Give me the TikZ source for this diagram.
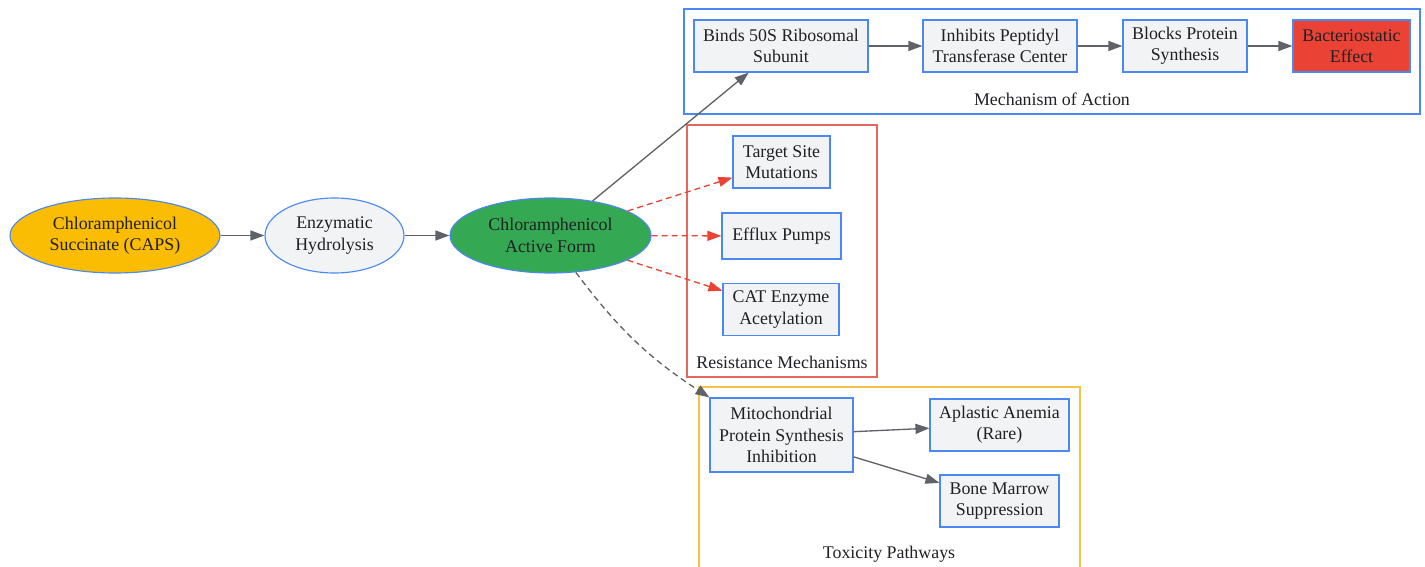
\documentclass[tikz,border=0pt]{standalone}
\usepackage{fontspec}
\setmainfont{Liberation Serif}
\usetikzlibrary{arrows.meta,shapes.geometric}
\definecolor{txt}{HTML}{202124}
\definecolor{edgegray}{HTML}{5F6368}
\definecolor{nodeblue}{HTML}{4A89F3}
\definecolor{nodefill}{HTML}{F1F3F4}
\definecolor{capsamber}{HTML}{FBBC04}
\definecolor{activegreen}{HTML}{34A853}
\definecolor{effectred}{HTML}{EA4335}
\definecolor{resred}{HTML}{E4685E}
\definecolor{toxyellow}{HTML}{F6C245}

\begin{document}
\begin{tikzpicture}[x=0.75pt,y=-0.75pt,line width=1pt]
        %
        % `proc' is used for the boxes, `drug' for the ellipses.
        % `cluster' is used for the group frames.
        % `sz' sets a node width in pixels.
        \tikzstyle{every node} = [font=\fontsize{13.4}{16}\selectfont,text=txt,align=center]
        \tikzstyle{sz} = [minimum width=#1*0.75pt]
        \tikzstyle{proc} = [draw=nodeblue,line width=0.85pt,fill=nodefill,rectangle,inner sep=0pt,minimum height=52*0.75pt]
        \tikzstyle{drug} = [draw=nodeblue,line width=0.85pt,fill=nodefill,ellipse,inner sep=0pt,minimum height=75*0.75pt]
        \tikzstyle{cluster} = [line width=0.9pt]
        \tikzstyle{flow} = [draw=edgegray,-{Triangle[length=10.5pt,width=7.5pt]}]
        \tikzstyle{resist} = [draw=effectred,dash pattern=on 4.5pt off 3pt,-{Triangle[length=10.5pt,width=7.5pt]}]
        \tikzstyle{toxic} = [draw=edgegray,dash pattern=on 4.5pt off 3pt,-{Triangle[length=10.5pt,width=7.5pt]}]
        %
        \clip (0,0) rectangle (1425,567);
        %
        % Group frames
        \draw[cluster,draw=nodeblue] (684,9) rectangle (1420,114);
        \draw[cluster,draw=resred] (687,125) rectangle (877,377);
        \draw[cluster,draw=toxyellow] (699,387) rectangle (1080,590);
        \node (moalabel) at (1052,99) {Mechanism of Action};
        \node (reslabel) at (782,362) {Resistance Mechanisms};
        \node (toxlabel) at (889,554) {Toxicity Pathways};
        %
        % Activation
        \node[drug,sz=210,fill=capsamber] (caps) at (115,235.5) {Chloramphenicol\\Succinate (CAPS)};
        \node[drug,sz=139] (hydro) at (334.5,235.5) {Enzymatic\\Hydrolysis};
        \node[drug,sz=201,fill=activegreen] (active) at (550.5,235.5) {Chloramphenicol\\Active Form};
        \draw[flow] (caps) -- (hydro);
        \draw[flow] (hydro) -- (active);
        %
        % Mechanism of action
        \node[proc,sz=174] (binds) at (781,46) {Binds 50S Ribosomal\\Subunit};
        \node[proc,sz=154] (inhibits) at (1000,46) {Inhibits Peptidyl\\Transferase Center};
        \node[proc,sz=124] (blocks) at (1185,46) {Blocks Protein\\Synthesis};
        \node[proc,sz=117,fill=effectred] (effect) at (1351.5,46) {Bacteriostatic\\Effect};
        \draw[flow] (active) -- (binds);
        \draw[flow] (binds) -- (inhibits);
        \draw[flow] (inhibits) -- (blocks);
        \draw[flow] (blocks) -- (effect);
        %
        % Resistance
        \node[proc,sz=97] (target) at (781.5,162) {Target Site\\Mutations};
        \node[proc,sz=119,minimum height=46*0.75pt] (efflux) at (781.5,236) {Efflux Pumps};
        \node[proc,sz=116] (cat) at (781,309.5) {CAT Enzyme\\Acetylation};
        \draw[resist] (active) -- (target);
        \draw[resist] (active) -- (efflux);
        \draw[resist] (active) -- (cat);
        %
        % Toxicity
        \node[proc,sz=143,minimum height=74*0.75pt] (mito) at (781.5,435) {Mitochondrial\\Protein Synthesis\\Inhibition};
        \node[proc,sz=139] (aplastic) at (999.5,425) {Aplastic Anemia\\(Rare)};
        \node[proc,sz=119] (marrow) at (999.5,501) {Bone Marrow\\Suppression};
        \draw[toxic] (active) to[bend right=10] (mito.north west);
        \draw[flow] (mito) -- (aplastic);
        \draw[flow] (mito) -- (marrow);
        %
\end{tikzpicture}
\end{document}
